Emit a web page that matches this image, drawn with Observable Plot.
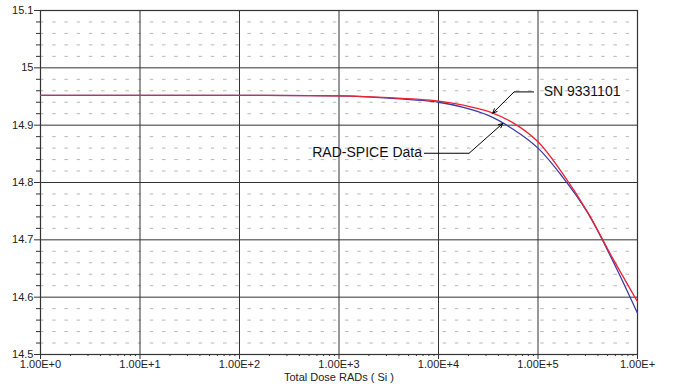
<!DOCTYPE html>
<html>
<head>
<meta charset="utf-8">
<script src="https://cdn.jsdelivr.net/npm/d3@7"></script>
<script src="https://cdn.jsdelivr.net/npm/@observablehq/plot@0.6"></script>
<style>
  html, body { margin: 0; padding: 0; background: #fff; }
  #chart { width: 673px; height: 387px; }
</style>
</head>
<body>
<div id="chart"></div>
<script>
// Total dose (RADs Si) sample points
const dose = [1, 10, 100, 1000, 3162, 10000, 17783, 31623, 56234, 100000, 177828, 316228, 562341, 1000000];
// SN 9331101 measured (red)
const snValues = [14.952, 14.952, 14.952, 14.951, 14.948, 14.942, 14.935, 14.924, 14.904, 14.871, 14.815, 14.748, 14.668, 14.592];
// RAD-SPICE model (blue)
const spiceValues = [14.952, 14.952, 14.952, 14.951, 14.947, 14.940, 14.931, 14.917, 14.893, 14.860, 14.809, 14.747, 14.664, 14.572];

const xTicks = [1, 10, 100, 1000, 10000, 100000, 1000000];
const xTickLabels = ["1.00E+0", "1.00E+1", "1.00E+2", "1.00E+3", "1.00E+4", "1.00E+5", "1.00E+"];
const yTicks = [14.5, 14.6, 14.7, 14.8, 14.9, 15.0, 15.1];
const yTickLabels = ["14.5", "14.6", "14.7", "14.8", "14.9", "15", "15.1"];
const yMinorTicks = [14.52,14.54,14.56,14.58,14.62,14.64,14.66,14.68,14.72,14.74,14.76,14.78,14.82,14.84,14.86,14.88,14.92,14.94,14.96,14.98,15.02,15.04,15.06,15.08];
const xMinorTicks = [2,3,4,5,6,7,8,9,20,30,40,50,60,70,80,90,200,300,400,500,600,700,800,900,2000,3000,4000,5000,6000,7000,8000,9000,20000,30000,40000,50000,60000,70000,80000,90000,200000,300000,400000,500000,600000,700000,800000,900000];

const xTitle = "Total Dose RADs ( Si )";

// Annotations: [SN 9331101, RAD-SPICE Data]
const annoLabels = ["SN 9331101", "RAD-SPICE Data"];
const annoTextX = [114000, 6820];
const annoTextY = [14.959, 14.853];
const annoHorizX1 = [91200, 7145];
const annoElbowX = [57400, 20300];
const annoElbowY = [14.958, 14.851];
const annoTipX = [35100, 44200];
const annoTipY = [14.921, 14.903];

const series = [];
dose.forEach((d, i) => series.push({dose: d, value: spiceValues[i], s: "RAD-SPICE"}));
dose.forEach((d, i) => series.push({dose: d, value: snValues[i], s: "SN"}));
const annos = annoLabels.map((t, i) => ({
  t, tx: annoTextX[i], ty: annoTextY[i],
  hx1: annoHorizX1[i], ex: annoElbowX[i], ey: annoElbowY[i], px: annoTipX[i], py: annoTipY[i]
}));

const labelMap = new Map(xTicks.map((t, i) => [t, xTickLabels[i]]));
const yLabelMap = new Map(yTicks.map((t, i) => [t.toFixed(1), yTickLabels[i]]));

const chart = Plot.plot({
  width: 673,
  height: 387,
  marginLeft: 40,
  marginRight: 36,
  marginTop: 10,
  marginBottom: 33,
  style: {fontFamily: "'Liberation Sans', Arial, sans-serif", fontSize: "11px", color: "#222", background: "#fff"},
  x: {type: "log", domain: [1, 1000000]},
  y: {domain: [14.5, 15.1]},
  marks: [
    Plot.gridY(yMinorTicks, {stroke: "#b8b8b8", strokeOpacity: 1, strokeDasharray: "3.5,8.7"}),
    Plot.gridY(yTicks, {stroke: "#333", strokeOpacity: 1}),
    Plot.gridX(xTicks, {stroke: "#333", strokeOpacity: 1}),
    Plot.frame({stroke: "#333", strokeWidth: 1.2}),
    Plot.axisY(yMinorTicks, {tickSize: 4, text: null, stroke: "#333"}),
    Plot.axisY(yTicks, {tickSize: 6, tickPadding: 1, tickFormat: d => yLabelMap.get(d.toFixed(1)), fill: "#222", stroke: "#333", label: null, fontSize: 11}),
    Plot.axisX(xMinorTicks, {tickSize: 2, text: null, stroke: "#333"}),
    Plot.axisX(xTicks, {tickSize: 5, tickPadding: 1, tickFormat: d => labelMap.get(d), fill: "#222", stroke: "#333", label: null, fontSize: 11}),
    Plot.text([xTitle], {frameAnchor: "bottom", dy: 26, text: d => d, fill: "#222", fontSize: 11}),
    Plot.line(series.filter(d => d.s === "RAD-SPICE"), {x: "dose", y: "value", stroke: "#3b3ba6", strokeWidth: 1.3, curve: "catmull-rom"}),
    Plot.line(series.filter(d => d.s === "SN"), {x: "dose", y: "value", stroke: "#ee2230", strokeWidth: 1.3, curve: "catmull-rom"}),
    Plot.link(annos, {x1: "hx1", y1: "ey", x2: "ex", y2: "ey", stroke: "#000", strokeWidth: 1}),
    Plot.arrow(annos, {x1: "ex", y1: "ey", x2: "px", y2: "py", stroke: "#000", strokeWidth: 1, headLength: 7, headAngle: 50}),
    Plot.text(annos.slice(0, 1), {x: "tx", y: "ty", text: "t", textAnchor: "start", fill: "#111", fontSize: 14}),
    Plot.text(annos.slice(1, 2), {x: "tx", y: "ty", text: "t", textAnchor: "end", fill: "#111", fontSize: 14})
  ]
});
document.getElementById("chart").appendChild(chart);
</script>
</body>
</html>
